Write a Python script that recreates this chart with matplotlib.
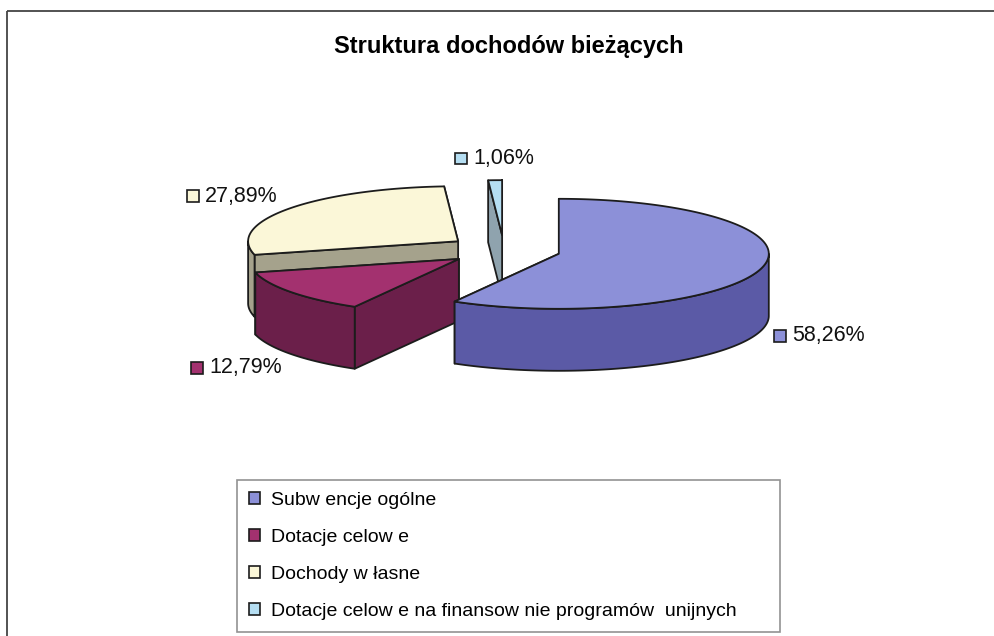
import numpy as np
import matplotlib
matplotlib.use("Agg")
import matplotlib.pyplot as plt
from matplotlib.patches import Polygon, Rectangle, Patch
from matplotlib.offsetbox import AnnotationBbox, HPacker, TextArea, DrawingArea

plt.rcParams["font.family"] = ["Liberation Sans", "DejaVu Sans"]

TITLE = "Struktura dochodów bieżących"
labels = ["Subw encje ogólne", "Dotacje celow e", "Dochody w łasne",
          "Dotacje celow e na finansow nie programów  unijnych"]
values = [58.26, 12.79, 27.89, 1.06]
value_text = ["58,26%", "12,79%", "27,89%", "1,06%"]
top_colors = ["#8c90d8", "#a3316f", "#fbf7d8", "#b5def2"]
side_colors = ["#5b5aa6", "#6b1f4a", "#a5a28c", "#8fa3ae"]

# pie geometry, in pixel units of the 995x636 canvas (y grows downward)
CX, CY = 504, 250
RX, RY = 210, 55
DEPTH = 62
EXPLODE = 0.27
EDGE = "#1c1c1c"


def on_rim(cx, cy, ang, z=0.0):
    t = np.radians(ang)
    return cx + RX * np.sin(t), cy - RY * np.cos(t) + z


def faces_front(ang):
    return np.cos(np.radians(ang)) < 0


fig = plt.figure(figsize=(9.95, 6.36), dpi=100)
ax = fig.add_axes([0, 0, 1, 1])
ax.set_xlim(0, 995)
ax.set_ylim(636, 0)
ax.axis("off")

# chart area frame (only top and left edges survive in the scan)
ax.add_patch(Rectangle((7, 11), 1100, 700, fill=False, edgecolor="#444444", lw=1.3))

ax.text(509, 47, TITLE, ha="center", va="center", fontsize=17, fontweight="bold")

frac = np.array(values) / np.sum(values) * 360.0
starts = np.concatenate([[0.0], np.cumsum(frac)[:-1]])
ends = starts + frac
mids = (starts + ends) / 2
centers = []
for m in mids:
    t = np.radians(m)
    centers.append((CX + EXPLODE * RX * np.sin(t), CY - EXPLODE * RY * np.cos(t)))


def draw_slice(i):
    cx, cy = centers[i]
    a, b = starts[i], ends[i]
    kw = dict(edgecolor=EDGE, lw=1.3, joinstyle="round")
    walls = []
    for ang, normal in ((a, a - 90), (b, b + 90)):
        quad = [(cx, cy), on_rim(cx, cy, ang), on_rim(cx, cy, ang, DEPTH), (cx, cy + DEPTH)]
        walls.append((faces_front(normal), quad))
    walls.sort(key=lambda w: w[0])
    for front, quad in walls:
        ax.add_patch(Polygon(quad, closed=True, facecolor=side_colors[i], **kw))
    lo, hi = max(a, 90.0), min(b, 270.0)
    if hi > lo:
        th = np.linspace(lo, hi, 120)
        upper = [on_rim(cx, cy, t) for t in th]
        lower = [on_rim(cx, cy, t, DEPTH) for t in th[::-1]]
        ax.add_patch(Polygon(upper + lower, closed=True, facecolor=side_colors[i], **kw))
    th = np.linspace(a, b, max(int(frac[i] * 2), 4))
    top = [(cx, cy)] + [on_rim(cx, cy, t) for t in th]
    ax.add_patch(Polygon(top, closed=True, facecolor=top_colors[i], **kw))


for i in (2, 3, 1, 0):
    draw_slice(i)

# data labels: coloured square + percentage
for i, m in enumerate(mids):
    cx, cy = centers[i]
    t = np.radians(m)
    lx = cx + 1.06 * RX * np.sin(t)
    ly = cy - 1.4 * RY * np.cos(t)
    if faces_front(m):
        ly += DEPTH
    if abs(np.sin(t)) < 0.2:
        align = 0.5
    else:
        align = 0.0 if np.sin(t) > 0 else 1.0
    sq = DrawingArea(9, 9, 0, 0)
    sq.add_artist(Rectangle((0, 0), 8.5, 8.5, facecolor=top_colors[i], edgecolor=EDGE, lw=1.2))
    txt = TextArea(value_text[i], textprops=dict(fontsize=15.5, color="#111111"))
    box = HPacker(children=[sq, txt], align="center", pad=0, sep=4)
    ab = AnnotationBbox(box, (lx, ly), xycoords="data", box_alignment=(align, 0.5),
                        frameon=False, pad=0)
    ax.add_artist(ab)

handles = [Patch(facecolor=c, edgecolor=EDGE, lw=1.2) for c in top_colors]
leg = ax.legend(handles, labels, loc="upper left",
                bbox_to_anchor=(237 / 995, 1 - 633 / 636, 543 / 995, 153 / 636),
                bbox_transform=fig.transFigure, mode="expand",
                fontsize=14, frameon=True, fancybox=False,
                borderaxespad=0, borderpad=0.6, labelspacing=1.03, handlelength=0.6,
                handleheight=0.6, handletextpad=0.55)
leg.get_frame().set_edgecolor("#777777")
leg.get_frame().set_linewidth(1.2)

fig.savefig("out.png", dpi=100, facecolor="white")
